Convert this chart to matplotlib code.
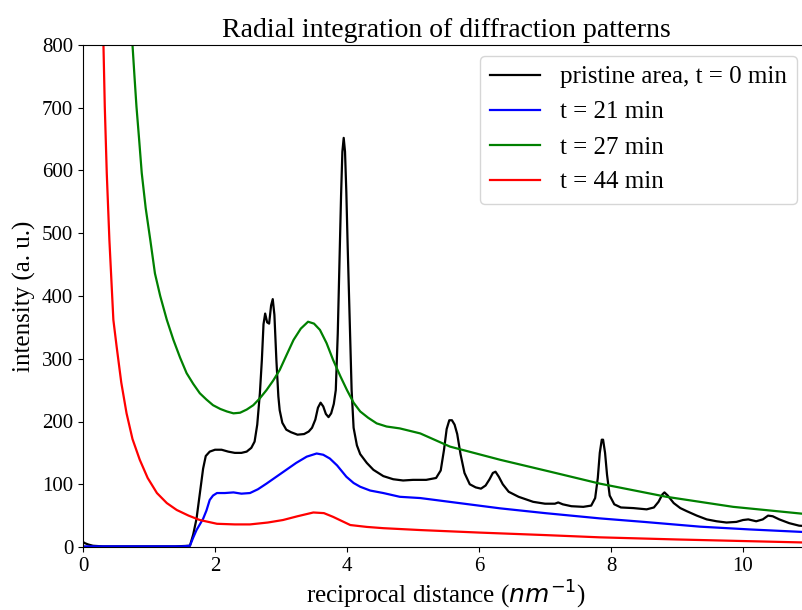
import matplotlib
matplotlib.use("Agg")
import matplotlib.pyplot as plt

plt.rcParams['font.family'] = ['Liberation Serif', 'DejaVu Serif']

# pristine area, t = 0 min
x_t0 = [0, 0.03, 0.08, 0.15, 0.3, 0.6, 1.0, 1.4, 1.62, 1.67,
        1.72, 1.77, 1.82, 1.86, 1.92, 2.0, 2.1, 2.2, 2.3, 2.4,
        2.48, 2.55, 2.6, 2.64, 2.68, 2.71, 2.735, 2.76, 2.79, 2.82,
        2.85, 2.875, 2.9, 2.93, 2.96, 2.98, 3.02, 3.08, 3.15, 3.25,
        3.35, 3.42, 3.47, 3.52, 3.56, 3.6, 3.64, 3.68, 3.72, 3.76,
        3.8, 3.83, 3.86, 3.89, 3.91, 3.93, 3.95, 3.97, 3.99, 4.01,
        4.04, 4.07, 4.1, 4.15, 4.2, 4.3, 4.4, 4.55, 4.7, 4.85,
        5.0, 5.2, 5.35, 5.42, 5.47, 5.51, 5.55, 5.59, 5.63, 5.67,
        5.72, 5.78, 5.86, 5.95, 6.03, 6.1, 6.16, 6.21, 6.25, 6.3,
        6.36, 6.45, 6.6, 6.82, 7.0, 7.15, 7.2, 7.27, 7.4, 7.58,
        7.7, 7.76, 7.8, 7.83, 7.86, 7.88, 7.91, 7.94, 7.98, 8.05,
        8.15, 8.34, 8.54, 8.65, 8.72, 8.78, 8.81, 8.86, 8.95, 9.05,
        9.15, 9.3, 9.45, 9.6, 9.75, 9.9, 10.0, 10.08, 10.2, 10.3,
        10.38, 10.45, 10.55, 10.7, 10.85, 11.0]
y_t0 = [8, 6, 4, 2, 1, 1, 1, 1, 2, 20,
        45, 85, 125, 145, 152, 155, 155, 152, 150, 150,
        152, 158, 168, 195, 245, 298, 355, 372, 358, 356,
        385, 395, 370, 298, 240, 218, 198, 187, 183, 179,
        180, 184, 190, 203, 222, 230, 224, 212, 207, 213,
        228, 250, 340, 470, 560, 630, 652, 630, 565, 480,
        365, 250, 190, 162, 148, 134, 123, 113, 108, 106,
        107, 107, 110, 122, 155, 188, 202, 202, 195, 180,
        148, 118, 100, 95, 93, 98, 108, 118, 120, 112,
        100, 88, 80, 72, 69, 69, 71, 68, 65, 64,
        66, 78, 110, 150, 171, 171, 150, 115, 82, 68,
        63, 62, 60, 63, 72, 84, 87, 82, 70, 62,
        57, 50, 44, 41, 39, 40, 43, 44, 41, 44,
        50, 49, 44, 38, 34, 33]

# t = 21 min
x_t21 = [0, 0.5, 1.0, 1.5, 1.62, 1.67, 1.72, 1.77, 1.82, 1.87,
         1.92, 1.97, 2.03, 2.15, 2.28, 2.4, 2.53, 2.65, 2.78, 2.93,
         3.08, 3.23, 3.39, 3.54, 3.64, 3.74, 3.85, 3.99, 4.1, 4.2,
         4.35, 4.55, 4.8, 5.11, 5.7, 6.32, 7.0, 7.83, 8.5, 9.35,
         10.1, 11.0]
y_t21 = [1, 1, 1, 1, 2, 15, 27, 36, 45, 58,
         75, 82, 86, 86, 87, 85, 86, 92, 101, 112,
         123, 134, 144, 149, 147, 141, 130, 112, 102, 96,
         90, 86, 80, 78, 70, 61.6, 54, 45.6, 40, 32.4,
         28, 23.5]

# t = 27 min
x_t27 = [0.75, 0.78, 0.81, 0.85, 0.89, 0.95, 1.02, 1.09, 1.17, 1.27,
         1.37, 1.47, 1.57, 1.67, 1.77, 1.87, 1.97, 2.08, 2.18, 2.28,
         2.38, 2.48, 2.58, 2.68, 2.78, 2.88, 2.98, 3.08, 3.19, 3.3,
         3.41, 3.5, 3.59, 3.69, 3.79, 3.9, 4.0, 4.1, 4.2, 4.32,
         4.45, 4.6, 4.8, 5.11, 5.56, 6.32, 7.08, 7.83, 8.84, 9.85,
         11.0]
y_t27 = [800, 750, 702, 650, 596, 540, 489, 436, 400, 362,
         330, 302, 277, 260, 245, 235, 226, 220, 216, 213,
         214, 219, 226, 237, 250, 265, 282, 305, 330, 348,
         359, 356, 346, 325, 298, 272, 250, 230, 216, 206,
         197, 192, 189, 181, 160, 139, 120, 101, 80, 64,
         52]

# t = 44 min
x_t44 = [0.28, 0.31, 0.33, 0.36, 0.40, 0.46, 0.51, 0.58, 0.66, 0.75,
         0.86, 0.98, 1.12, 1.27, 1.42, 1.6, 1.77, 2.03, 2.3, 2.53,
         2.8, 3.03, 3.25, 3.49, 3.65, 3.79, 3.95, 4.05, 4.3, 4.55,
         5.11, 6.0, 7.0, 7.83, 9.0, 10.0, 11.0]
y_t44 = [860, 800, 702, 596, 489, 362, 319, 262, 213, 172,
         139, 110, 86, 70, 59, 50, 43, 37, 36, 36,
         39, 43, 49, 55, 54, 48, 40, 35, 32, 30,
         27, 23, 19, 15.4, 12, 9.5, 7]

fig = plt.figure(figsize=[8.02, 6.10], dpi=100)
ax = fig.add_axes([83/802, 63/610, 726/802, 502/610])

ax.plot(x_t0, y_t0, color='black', lw=1.6, label='pristine area, t = 0 min')
ax.plot(x_t21, y_t21, color='blue', lw=1.6, label='t = 21 min')
ax.plot(x_t27, y_t27, color='green', lw=1.6, label='t = 27 min')
ax.plot(x_t44, y_t44, color='red', lw=1.6, label='t = 44 min')

ax.set_xlim(0, 11)
ax.set_ylim(0, 800)
ax.set_xticks([0, 2, 4, 6, 8, 10])
ax.tick_params(labelsize=15)
ax.set_title("Radial integration of diffraction patterns", fontsize=20)
ax.set_xlabel("reciprocal distance ($nm^{-1}$)", fontsize=18, labelpad=2)
ax.set_ylabel("intensity (a. u.)", fontsize=18)

ax.legend(loc='upper right', bbox_to_anchor=(797/802, 1 - 56/610),
          bbox_transform=fig.transFigure, borderaxespad=0, fontsize=18)

fig.savefig("out.png", dpi=100)
